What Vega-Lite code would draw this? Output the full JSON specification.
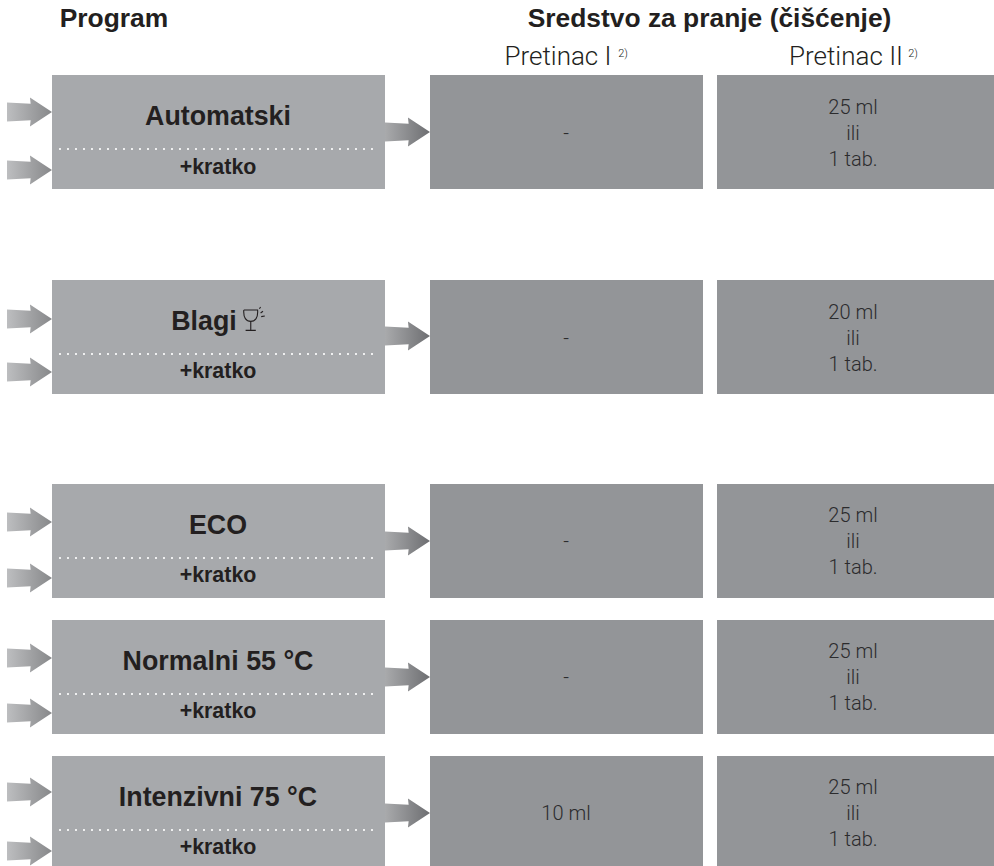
{"$schema":"https://vega.github.io/schema/vega-lite/v6.json","width":994,"height":866,"padding":0,"autosize":{"type":"none"},"background":"white","view":{"stroke":null},
"datasets":{
"boxes":[
{"group":"program","left":52,"right":385,"top":75,"bottom":189},{"group":"program","left":52,"right":385,"top":280,"bottom":394},{"group":"program","left":52,"right":385,"top":484,"bottom":598},{"group":"program","left":52,"right":385,"top":620,"bottom":734},{"group":"program","left":52,"right":385,"top":756,"bottom":866},
{"group":"dose","left":430,"right":703,"top":75,"bottom":189},{"group":"dose","left":430,"right":703,"top":280,"bottom":394},{"group":"dose","left":430,"right":703,"top":484,"bottom":598},{"group":"dose","left":430,"right":703,"top":620,"bottom":734},{"group":"dose","left":430,"right":703,"top":756,"bottom":866},
{"group":"dose","left":717,"right":994,"top":75,"bottom":189},{"group":"dose","left":717,"right":994,"top":280,"bottom":394},{"group":"dose","left":717,"right":994,"top":484,"bottom":598},{"group":"dose","left":717,"right":994,"top":620,"bottom":734},{"group":"dose","left":717,"right":994,"top":756,"bottom":866}],
"dividers":[{"left":60,"right":380,"at":149},{"left":60,"right":380,"at":354},{"left":60,"right":380,"at":558},{"left":60,"right":380,"at":694},{"left":60,"right":380,"at":830}],
"arrowsIn":[{"cx":29.5,"cy":112},{"cx":29.5,"cy":170},{"cx":29.5,"cy":319},{"cx":29.5,"cy":372},{"cx":29.5,"cy":522},{"cx":29.5,"cy":578},{"cx":29.5,"cy":658},{"cx":29.5,"cy":713},{"cx":29.5,"cy":792},{"cx":29.5,"cy":851}],
"arrowsOut":[{"cx":407.5,"cy":132},{"cx":407.5,"cy":336},{"cx":407.5,"cy":541},{"cx":407.5,"cy":677},{"cx":407.5,"cy":813}],
"heads":[{"cx":114,"cy":19,"t":"Program"},{"cx":709.5,"cy":19,"t":"Sredstvo za pranje (čišćenje)"}],
"subheads":[{"cx":558,"cy":57,"t":"Pretinac I"},{"cx":846,"cy":57,"t":"Pretinac II"}],
"sups":[{"cx":623,"cy":54,"t":"2)"},{"cx":913,"cy":54,"t":"2)"}],
"names":[{"cx":218,"cy":117,"t":"Automatski"},{"cx":204,"cy":322,"t":"Blagi"},{"cx":218,"cy":526,"t":"ECO"},{"cx":218,"cy":662,"t":"Normalni 55 °C"},{"cx":218,"cy":798,"t":"Intenzivni 75 °C"}],
"shorts":[{"cx":218,"cy":168,"t":"+kratko"},{"cx":218,"cy":372,"t":"+kratko"},{"cx":218,"cy":576,"t":"+kratko"},{"cx":218,"cy":712,"t":"+kratko"},{"cx":218,"cy":848,"t":"+kratko"}],
"cells":[{"cx":566,"cy":134,"t":"-"},{"cx":566,"cy":339,"t":"-"},{"cx":566,"cy":542,"t":"-"},{"cx":566,"cy":678,"t":"-"},{"cx":566,"cy":814,"t":"10 ml"},
{"cx":853,"cy":108,"t":"25 ml"},{"cx":853,"cy":134,"t":"ili"},{"cx":853,"cy":160,"t":"1 tab."},
{"cx":853,"cy":313,"t":"20 ml"},{"cx":853,"cy":339,"t":"ili"},{"cx":853,"cy":365,"t":"1 tab."},
{"cx":853,"cy":516,"t":"25 ml"},{"cx":853,"cy":542,"t":"ili"},{"cx":853,"cy":568,"t":"1 tab."},
{"cx":853,"cy":652,"t":"25 ml"},{"cx":853,"cy":678,"t":"ili"},{"cx":853,"cy":704,"t":"1 tab."},
{"cx":853,"cy":788,"t":"25 ml"},{"cx":853,"cy":814,"t":"ili"},{"cx":853,"cy":840,"t":"1 tab."}],
"glass":[{"cx":254,"cy":319}]
},
"layer":[
{"data":{"name":"boxes"},"mark":{"type":"rect"},"encoding":{"x":{"field":"left","type":"quantitative","scale":{"domain":[0,994],"nice":false,"zero":false},"axis":null},"x2":{"field":"right"},"y":{"field":"top","type":"quantitative","scale":{"domain":[866,0],"nice":false,"zero":false},"axis":null},"y2":{"field":"bottom"},"color":{"field":"group","type":"nominal","scale":{"domain":["program","dose"],"range":["#a7a9ac","#939598"]},"legend":null}}},
{"data":{"name":"dividers"},"mark":{"type":"rule","color":"#ffffff","strokeWidth":2.2,"strokeCap":"round","strokeDash":[0,8]},"encoding":{"x":{"field":"left","type":"quantitative"},"x2":{"field":"right"},"y":{"field":"at","type":"quantitative"}}},
{"data":{"name":"arrowsIn"},"mark":{"type":"point","filled":true,"opacity":1,"size":2025,"shape":"M-1,-0.42 L0.05,-0.37 L0.02,-0.64 L1,0 L0.02,0.64 L0.05,0.37 L-1,0.42 Z","fill":{"gradient":"linear","x1":0,"y1":0,"x2":1,"y2":0,"stops":[{"offset":0,"color":"#bdbec0"},{"offset":1,"color":"#87888a"}]},"stroke":null},"encoding":{"x":{"field":"cx","type":"quantitative"},"y":{"field":"cy","type":"quantitative"}}},
{"data":{"name":"arrowsOut"},"mark":{"type":"point","filled":true,"opacity":1,"size":2025,"shape":"M-1,-0.42 L0.05,-0.37 L0.02,-0.64 L1,0 L0.02,0.64 L0.05,0.37 L-1,0.42 Z","fill":{"gradient":"linear","x1":0,"y1":0,"x2":1,"y2":0,"stops":[{"offset":0,"color":"#a9aaac"},{"offset":1,"color":"#6d6e71"}]},"stroke":null},"encoding":{"x":{"field":"cx","type":"quantitative"},"y":{"field":"cy","type":"quantitative"}}},
{"data":{"name":"glass"},"mark":{"type":"point","filled":false,"opacity":1,"size":576,"stroke":"#231f20","strokeWidth":1.1,"shape":"M-0.85,-0.75 L0.3,-0.75 C0.35,-0.1 0.1,0.2 -0.27,0.2 C-0.65,0.2 -0.9,-0.1 -0.85,-0.75 M-0.27,0.2 L-0.27,0.95 M-0.7,0.95 L0.15,0.95 M0.55,-0.5 L0.75,-0.65 M0.6,-0.2 L0.9,-0.25 M0.45,-0.85 L0.55,-1"},"encoding":{"x":{"field":"cx","type":"quantitative"},"y":{"field":"cy","type":"quantitative"}}},
{"data":{"name":"heads"},"mark":{"type":"text","font":"Liberation Sans","fontWeight":"bold","fontSize":26.4,"color":"#231f20","baseline":"middle","align":"center"},"encoding":{"x":{"field":"cx","type":"quantitative"},"y":{"field":"cy","type":"quantitative"},"text":{"field":"t"}}},
{"data":{"name":"names"},"mark":{"type":"text","font":"Liberation Sans","fontWeight":"bold","fontSize":26.8,"color":"#231f20","baseline":"middle","align":"center"},"encoding":{"x":{"field":"cx","type":"quantitative"},"y":{"field":"cy","type":"quantitative"},"text":{"field":"t"}}},
{"data":{"name":"shorts"},"mark":{"type":"text","font":"Liberation Sans","fontWeight":"bold","fontSize":21.4,"color":"#231f20","baseline":"middle","align":"center"},"encoding":{"x":{"field":"cx","type":"quantitative"},"y":{"field":"cy","type":"quantitative"},"text":{"field":"t"}}},
{"data":{"name":"subheads"},"mark":{"type":"text","font":"Roboto","fontWeight":300,"fontSize":26,"color":"#231f20","baseline":"middle","align":"center"},"encoding":{"x":{"field":"cx","type":"quantitative"},"y":{"field":"cy","type":"quantitative"},"text":{"field":"t"}}},
{"data":{"name":"sups"},"mark":{"type":"text","font":"Roboto","fontWeight":300,"fontSize":11,"color":"#231f20","baseline":"middle","align":"center"},"encoding":{"x":{"field":"cx","type":"quantitative"},"y":{"field":"cy","type":"quantitative"},"text":{"field":"t"}}},
{"data":{"name":"cells"},"mark":{"type":"text","font":"Roboto","fontWeight":300,"fontSize":20,"color":"#2b2b2d","baseline":"middle","align":"center"},"encoding":{"x":{"field":"cx","type":"quantitative"},"y":{"field":"cy","type":"quantitative"},"text":{"field":"t"}}}
]}
